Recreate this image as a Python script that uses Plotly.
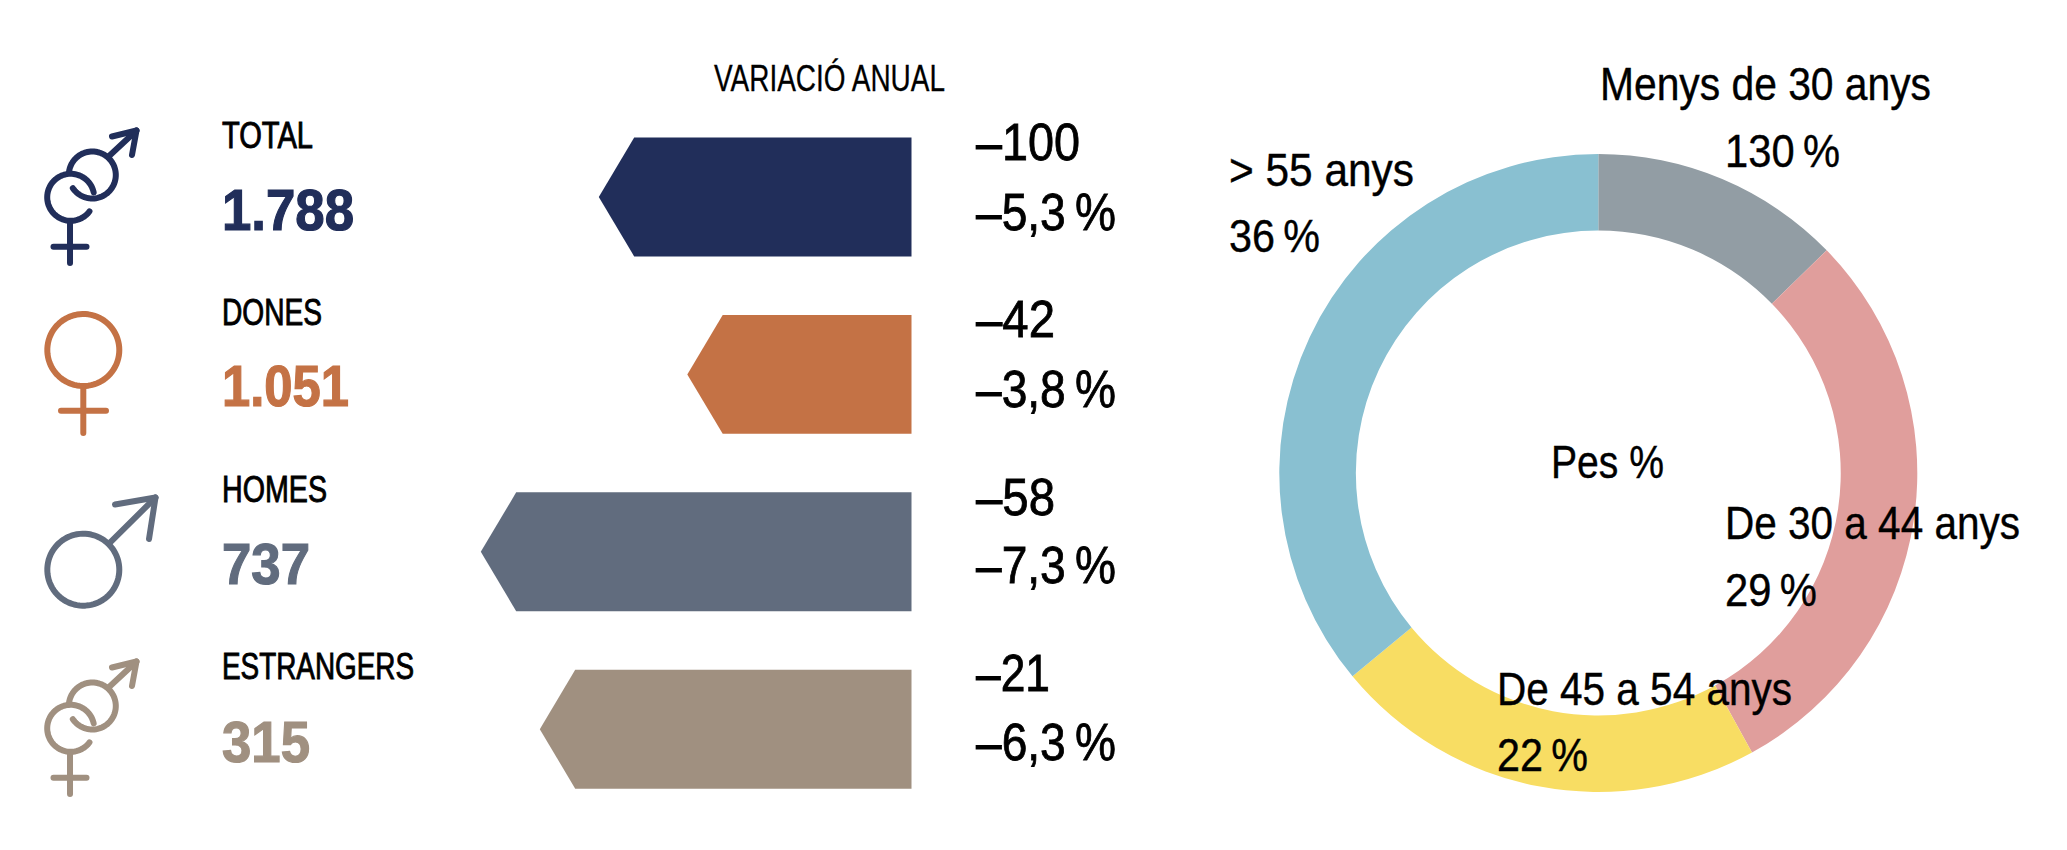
import json
import numpy as np
import plotly.graph_objects as go

W, H = 2067, 850
categories = ["TOTAL", "DONES", "HOMES", "ESTRANGERS"]
totals = [1788, 1051, 737, 315]
changes = [-100, -42, -58, -21]
pct_changes = [-5.3, -3.8, -7.3, -6.3]
row_colors = ["#212e5a", "#c47245", "#616c7e", "#a09080"]

age_labels = ["Menys de 30 anys", "De 30 a 44 anys", "De 45 a 54 anys", "> 55 anys"]
age_values = [12.7, 29.3, 22, 36]
age_printed = ["130", "29", "22", "36"]
age_colors = ["#929da4", "#e09e9c", "#f8dd63", "#89c0d1"]

FONT = "Liberation Sans"
NOTCH = 0.6
HALF = 0.335

fig = go.Figure()

for i, (name, pct, col) in enumerate(zip(categories, pct_changes, row_colors)):
    fig.add_trace(go.Scatter(
        x=[0, 0, pct + NOTCH, pct, pct + NOTCH, 0],
        y=[i - HALF, i + HALF, i + HALF, i, i - HALF, i - HALF],
        mode="lines", fill="toself", fillcolor=col, line=dict(width=0, color=col),
        name=name, hoverinfo="name", showlegend=False, xaxis="x", yaxis="y"))

fig.add_trace(go.Pie(
    labels=age_labels, values=age_values, sort=False, direction="clockwise", rotation=0,
    hole=0.76, marker=dict(colors=age_colors, line=dict(width=0)), textinfo="none",
    showlegend=False,
    domain=dict(x=[(1598.3 - 319) / W, (1598.3 + 319) / W], y=[1 - (473 + 319) / H, 1 - (473 - 319) / H])))

annotations = []
fit = {}


def txt(x, y, s, size, width, weight=0.4, color="#000000", bold=False):
    fit[s] = [width, weight]
    annotations.append(dict(
        x=x / W, y=1 - y / H, xref="paper", yref="paper", text=s, showarrow=False,
        xanchor="left", yanchor="middle", borderpad=0,
        font=dict(family=FONT, size=size, color=color, weight=700 if bold else 400)))


def num(v):
    return f"{v:,}".replace(",", ".")


def signed(v):
    return "\u2013" + f"{abs(v)}".replace(".", ",")


label_y = [135, 312, 489, 666]
total_y = [210, 386, 564, 742]
chg_y = [142, 319, 497, 673]
pct_y = [212, 389, 565, 742]
label_w = [91, 100, 105, 192]
total_w = [132, 127, 88, 88]
chg_w = [104, 79, 79, 74]
for i in range(4):
    txt(220.5, label_y[i], categories[i], 36, label_w[i], 0.9)
    txt(220.5, total_y[i], num(totals[i]), 57, total_w[i], 1.2, row_colors[i], True)
    txt(975, chg_y[i], signed(changes[i]), 52, chg_w[i], 0.8)
    txt(975, pct_y[i], signed(pct_changes[i]) + "\u2009%", 52, 140, 0.8)

txt(713, 79, "VARIACIÓ ANUAL", 36, 231, 0.3)
txt(1599, 83, age_labels[0], 47, 331)
txt(1724, 150, age_printed[0] + "\u2009%", 47, 115)
txt(1724, 522, age_labels[1], 47, 295)
txt(1724, 589, age_printed[1] + "\u2009%", 47, 92)
txt(1496, 688, age_labels[2], 47, 295)
txt(1496, 754, age_printed[2] + "\u2009%", 47, 91)
txt(1228, 169, age_labels[3], 47, 185)
txt(1228, 235, age_printed[3] + "\u2009%", 47, 91)
txt(1550, 461, "Pes %", 47, 113)

shapes = []


def stroke(points, color, width=6):
    d = "M " + " L ".join(f"{x / W:.5f},{1 - y / H:.5f}" for x, y in points)
    shapes.append(dict(type="path", path=d, xref="paper", yref="paper",
                       line=dict(color=color, width=width), fillcolor="rgba(0,0,0,0)", layer="above"))


def arc(cx, cy, r, a0, a1):
    t = np.radians(np.linspace(a0, a1, 80))
    return list(zip(cx + r * np.cos(t), cy + r * np.sin(t)))


def couple(dy, color):
    stroke(arc(70.7, 197.3 + dy, 23.5, 37, 348), color)
    stroke(arc(92.3, 175 + dy, 23.5, 185, 506), color)
    stroke([(108.3, 156.7 + dy), (136.5, 130.5 + dy)], color)
    stroke([(112, 136.5 + dy), (136.5, 130.5 + dy), (132, 155 + dy)], color)
    stroke([(70, 222 + dy), (70, 263 + dy)], color)
    stroke([(53.5, 246.7 + dy), (86.5, 246.7 + dy)], color)


couple(0, row_colors[0])
couple(531, row_colors[3])
stroke(arc(83.3, 350, 36, 0, 360), row_colors[1])
stroke([(83.3, 388), (83.3, 433)], row_colors[1])
stroke([(61, 410.7), (106, 410.7)], row_colors[1])
stroke(arc(83.3, 569.7, 36, 0, 360), row_colors[2])
stroke([(111, 541.7), (155.5, 497.5)], row_colors[2])
stroke([(115, 504.5), (155.5, 497.5), (149, 539)], row_colors[2])

PX_PER_UNIT = 59.0
X0 = 911.5
RIGHT = 1100
ROW0, ROWSTEP = 197, 177.4

fig.update_layout(
    width=W, height=H, margin=dict(l=0, r=0, t=0, b=0),
    paper_bgcolor="white", plot_bgcolor="white", showlegend=False,
    xaxis=dict(domain=[0, RIGHT / W], range=[-X0 / PX_PER_UNIT, (RIGHT - X0) / PX_PER_UNIT], visible=False, fixedrange=True),
    yaxis=dict(domain=[0, 1], range=[(H - ROW0) / ROWSTEP, -ROW0 / ROWSTEP], visible=False, fixedrange=True),
    annotations=annotations, shapes=shapes)

post = """
document.body.style.margin='0';document.body.style.overflow='hidden';
var fit=%s;
document.querySelectorAll('.annotation-text').forEach(function(el){
  var f=fit[el.textContent]; if(!f) return;
  var box=el.getBBox();
  el.setAttribute('text-anchor','start');
  el.style.textAnchor='start';
  el.setAttribute('x',box.x);
  el.setAttribute('lengthAdjust','spacingAndGlyphs');
  el.setAttribute('textLength',f[0]);
  el.style.stroke=getComputedStyle(el).fill;
  el.style.strokeWidth=f[1]+'px';
});
document.querySelectorAll('.shapelayer path').forEach(function(p){
  p.style.strokeLinecap='round';p.style.strokeLinejoin='round';
});
""" % json.dumps(fit)

fig.write_html("out.html", config=dict(displayModeBar=False), post_script=post)
